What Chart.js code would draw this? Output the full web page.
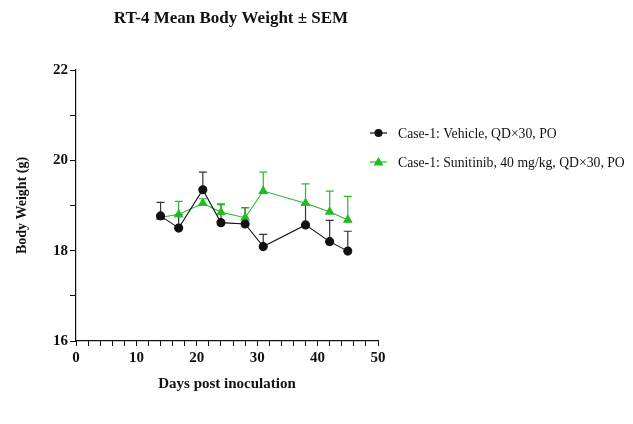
<!DOCTYPE html>
<html>
<head>
<meta charset="utf-8">
<script src="https://cdn.jsdelivr.net/npm/chart.js@4.4.1/dist/chart.umd.min.js"></script>
<style>
html,body{margin:0;padding:0;background:#fff;}
#wrap{width:633px;height:424px;position:relative;}
</style>
</head>
<body>
<div id="wrap"><canvas id="c" width="633" height="424"></canvas></div>
<script>
const chartTitle = "RT-4 Mean Body Weight \u00b1 SEM";
const xTitle = "Days post inoculation";
const yTitle = "Body Weight (g)";
const days = [14, 17, 21, 24, 28, 31, 38, 42, 45];
const vehicleLabel = "Case-1: Vehicle, QD\u00d730, PO";
const vehicle = [18.77, 18.50, 19.35, 18.62, 18.59, 18.09, 18.57, 18.20, 17.99];
const vehicleSem = [0.30, 0.30, 0.39, 0.41, 0.36, 0.27, 0.45, 0.47, 0.44];
const sunitinibLabel = "Case-1: Sunitinib, 40 mg/kg, QD\u00d730, PO";
const sunitinib = [18.74, 18.80, 19.05, 18.85, 18.73, 19.32, 19.05, 18.86, 18.68];
const sunitinibSem = [0.04, 0.29, 0.10, 0.17, 0.22, 0.42, 0.43, 0.46, 0.52];
const xTicks = [0, 10, 20, 30, 40, 50];
const yTicks = [16, 18, 20, 22];

const BLACK = '#111111';
const GREEN = '#22bb22';
const SERIF = '"Liberation Serif", "Times New Roman", serif';

const errorBars = {
  id: 'errorBars',
  beforeDatasetsDraw(chart) {
    const ctx = chart.ctx;
    const xs = chart.scales.x, ys = chart.scales.y;
    chart.data.datasets.forEach((ds) => {
      ctx.save();
      ctx.strokeStyle = ds.errColor;
      ctx.lineWidth = 1.2;
      ds.data.forEach((p, i) => {
        const sem = ds.sem[i];
        const px = xs.getPixelForValue(p.x);
        const py = ys.getPixelForValue(p.y);
        const pt = ys.getPixelForValue(p.y + sem);
        ctx.beginPath();
        ctx.moveTo(px, py);
        ctx.lineTo(px, pt);
        ctx.moveTo(px - 4, pt);
        ctx.lineTo(px + 4, pt);
        ctx.stroke();
      });
      ctx.restore();
    });
  }
};

const extras = {
  id: 'extras',
  afterDraw(chart) {
    const ctx = chart.ctx;
    ctx.save();
    ctx.fillStyle = '#111';
    ctx.font = 'bold 17px ' + SERIF;
    ctx.textAlign = 'center';
    ctx.textBaseline = 'middle';
    ctx.fillText(chartTitle, 231, 19);
    // legend
    const items = chart.data.datasets;
    const lx = 370, ly0 = 133, gap = 29;
    items.forEach((ds, i) => {
      const y = ly0 + i * gap;
      ctx.strokeStyle = ds.borderColor;
      ctx.lineWidth = 1.2;
      ctx.beginPath();
      ctx.moveTo(lx, y);
      ctx.lineTo(lx + 17, y);
      ctx.stroke();
      ctx.fillStyle = ds.pointBackgroundColor;
      ctx.beginPath();
      if (ds.pointStyle === 'triangle') {
        ctx.moveTo(lx + 8.5, y - 5);
        ctx.lineTo(lx + 13.5, y + 3.5);
        ctx.lineTo(lx + 3.5, y + 3.5);
        ctx.closePath();
      } else {
        ctx.arc(lx + 8.5, y, 4, 0, Math.PI * 2);
      }
      ctx.fill();
      ctx.fillStyle = '#111';
      ctx.font = '13.7px ' + SERIF;
      ctx.textAlign = 'left';
      ctx.fillText(ds.label, lx + 28, y + 1);
    });
    ctx.restore();
  }
};

const toPts = (ys) => days.map((d, i) => ({x: d, y: ys[i]}));

new Chart(document.getElementById('c'), {
  type: 'line',
  data: {
    datasets: [
      {
        label: vehicleLabel,
        data: toPts(vehicle),
        sem: vehicleSem,
        errColor: '#333333',
        borderColor: BLACK,
        backgroundColor: BLACK,
        pointBackgroundColor: BLACK,
        pointBorderColor: BLACK,
        pointStyle: 'circle',
        pointRadius: 4,
        borderWidth: 1.1,
        tension: 0
      },
      {
        label: sunitinibLabel,
        data: toPts(sunitinib),
        sem: sunitinibSem,
        errColor: GREEN,
        borderColor: GREEN,
        backgroundColor: GREEN,
        pointBackgroundColor: GREEN,
        pointBorderColor: GREEN,
        pointStyle: 'triangle',
        pointRadius: 4.6,
        borderWidth: 1.1,
        tension: 0
      }
    ]
  },
  options: {
    responsive: false,
    animation: false,
    layout: {padding: {left: 0, top: 70, right: 255, bottom: 0}},
    plugins: {legend: {display: false}, title: {display: false}, tooltip: {enabled: false}},
    scales: {
      x: {
        type: 'linear',
        min: 0, max: 50,
        afterFit(s) { s.height = 83; },
        border: {display: true, color: '#111', width: 1.2},
        grid: {drawOnChartArea: false, drawTicks: true, tickLength: 5, color: '#111', lineWidth: 1},
        ticks: {
          stepSize: 2, autoSkip: false, maxRotation: 0, padding: 3,
          color: '#111', font: {family: SERIF, size: 15, weight: 'bold'},
          callback: (v) => xTicks.includes(v) ? String(v) : ''
        },
        title: {display: true, text: xTitle, color: '#111',
          font: {family: SERIF, size: 15, weight: 'bold'}, padding: {top: 0, bottom: 31}}
      },
      y: {
        type: 'linear',
        min: 16, max: 22,
        afterFit(s) { s.width = 76; },
        border: {display: true, color: '#111', width: 1.2},
        grid: {drawOnChartArea: false, drawTicks: true, tickLength: 6, color: '#111', lineWidth: 1},
        ticks: {
          stepSize: 1, autoSkip: false, padding: 2,
          color: '#111', font: {family: SERIF, size: 15, weight: 'bold'},
          callback: (v) => yTicks.includes(v) ? String(v) : ''
        },
        title: {display: true, text: yTitle, color: '#111',
          font: {family: SERIF, size: 14, weight: 'bold'}, padding: {top: 14, bottom: 0}}
      }
    }
  },
  plugins: [errorBars, extras]
});
</script>
</body>
</html>
